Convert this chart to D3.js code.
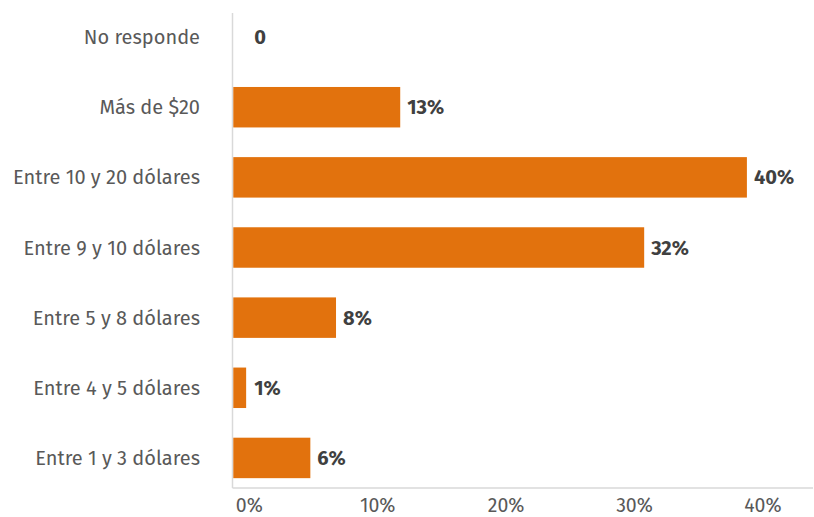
<!DOCTYPE html>
<html>
<head>
<meta charset="utf-8">
<script src="https://cdn.jsdelivr.net/npm/d3@7"></script>
<style>
  html, body { margin: 0; padding: 0; background: #ffffff; }
  svg { display: block; }
  text { font-family: "Fira Sans", "Roboto", "Noto Sans", sans-serif; }
</style>
</head>
<body>
<svg id="chart" width="814" height="517"></svg>
<script>
// Answer categories, top to bottom
const categories = [
  "No responde",
  "Más de $20",
  "Entre 10 y 20 dólares",
  "Entre 9 y 10 dólares",
  "Entre 5 y 8 dólares",
  "Entre 4 y 5 dólares",
  "Entre 1 y 3 dólares"
];
// Share of respondents (%)
const values = [0, 13, 40, 32, 8, 1, 6];
// Text shown next to each bar
const valueLabels = ["0", "13%", "40%", "32%", "8%", "1%", "6%"];
// Horizontal axis ticks
const xTicks = [0, 10, 20, 30, 40];
const xTickLabels = ["0%", "10%", "20%", "30%", "40%"];

const svg = d3.select("#chart");

const x = d3.scaleLinear().domain([0, 45]).range([233.3, 811.1]);
const y = d3.scaleBand()
  .domain(categories)
  .range([2, 493])
  .paddingInner(0.423)
  .paddingOuter(0.2115);

const plotTop = 13, plotBottom = 488, plotLeft = 232.5, plotRight = 813;

// Frame lines
svg.append("line")
  .attr("x1", plotLeft).attr("x2", plotLeft)
  .attr("y1", plotTop).attr("y2", plotBottom)
  .attr("stroke", "#d9d9d9").attr("stroke-width", 1.5);
svg.append("line")
  .attr("x1", plotLeft).attr("x2", plotRight)
  .attr("y1", plotBottom).attr("y2", plotBottom)
  .attr("stroke", "#d9d9d9").attr("stroke-width", 1.5);

// Bars
svg.append("g").selectAll("rect")
  .data(values)
  .join("rect")
  .attr("x", x(0))
  .attr("y", (d, i) => y(categories[i]))
  .attr("width", d => x(d) - x(0))
  .attr("height", y.bandwidth())
  .attr("fill", "#e2720d");

// Category labels
svg.append("g").selectAll("text")
  .data(categories)
  .join("text")
  .attr("x", 200)
  .attr("y", d => y(d) + y.bandwidth() / 2)
  .attr("dy", "0.35em")
  .attr("text-anchor", "end")
  .attr("font-size", 20)
  .attr("fill", "#595959")
  .text(d => d);

// Value labels
svg.append("g").selectAll("text")
  .data(values)
  .join("text")
  .attr("x", d => Math.max(x(d), x(0) + 14) + 7)
  .attr("y", (d, i) => y(categories[i]) + y.bandwidth() / 2)
  .attr("dy", "0.35em")
  .attr("font-size", 20)
  .attr("font-weight", "bold")
  .attr("fill", "#404040")
  .text((d, i) => valueLabels[i]);

// Horizontal axis
const xAxis = d3.axisBottom(x)
  .tickValues(xTicks)
  .tickFormat((d, i) => xTickLabels[i])
  .tickSize(0)
  .tickPadding(0);
const gx = svg.append("g")
  .attr("transform", `translate(0,${plotBottom})`)
  .call(xAxis);
gx.select(".domain").remove();
gx.selectAll("text")
  .attr("x", 15.5)
  .attr("y", 23.5)
  .attr("dy", null)
  .attr("font-size", 19.5)
  .attr("font-family", "\"Fira Sans\", Roboto, \"Noto Sans\", sans-serif")
  .attr("fill", "#595959");
</script>
</body>
</html>
